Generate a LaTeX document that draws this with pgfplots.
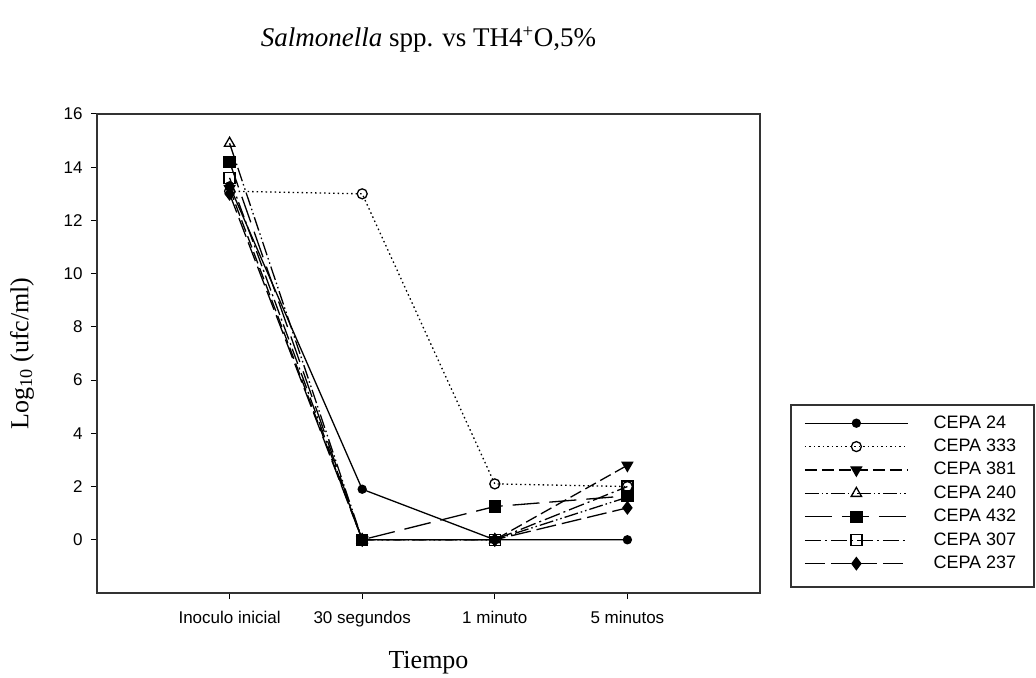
\documentclass[border=0pt]{standalone}
\usepackage{fontspec}
\setmainfont{Liberation Serif}
\newfontfamily\arialfont{Liberation Sans}
\usepackage{pgfplots}
\pgfplotsset{compat=1.18}
\begin{document}
\begin{tikzpicture}
\begin{axis}[
 scale only axis, width=663pt, height=479pt,
 xmin=-1, xmax=4, ymin=-2, ymax=16,
 xtick={0,1,2,3},
 xticklabels={Inoculo inicial, 30 segundos, 1 minuto, 5 minutos},
 ytick={0,2,...,16},
 tick align=outside, xtick pos=bottom, ytick pos=left, major tick length=6pt,
 axis line style={line width=1.5pt, draw=black!80},
 tick style={line width=1pt, black},
 ticklabel style={font=\fontsize{17}{20}\arialfont},
 xticklabel style={yshift=-9pt},
 yticklabel style={xshift=-5pt},
 /pgf/number format/assume math mode=true,
 clip=false,
 legend cell align=left,
 legend style={draw=none, fill=none, at={(rel axis cs:1.0468,0.3925)}, anchor=north west,
   inner xsep=13pt, inner ysep=10pt, row sep=7.4pt,
   font=\fontsize{18}{20}\arialfont,
   nodes={inner sep=0pt, text height=13pt, text depth=3pt},
   /tikz/every odd column/.append style={column sep=25pt}},
 legend image code/.code={\draw[mark repeat=2,mark phase=2] plot coordinates {(0pt,0pt)(51.5pt,0pt)(103pt,0pt)};},
]
\path (rel axis cs:-0.1463,-0.1691) rectangle (rel axis cs:1.4163,1.238);
\addplot[black, line width=1.3pt, mark=*, mark size=4pt] coordinates {(0,13.3)(1,1.9)(2,0)(3,0)};
\addlegendentry{CEPA 24}
\addplot[black, line width=1.3pt, dash pattern=on 1.5pt off 3pt, mark=o, mark size=5pt, mark options={solid, fill=white}] coordinates {(0,13.1)(1,13.0)(2,2.1)(3,2.0)};
\addlegendentry{CEPA 333}
\addplot[black, line width=1.3pt, dash pattern=on 12pt off 5pt, mark=triangle*, mark size=6pt, mark options={solid, rotate=180}] coordinates {(0,13.2)(1,0)(2,0)(3,2.8)};
\addlegendentry{CEPA 381}
\addplot[black, line width=1.3pt, dash pattern=on 14pt off 3pt on 1.5pt off 3pt on 1.5pt off 3pt, mark=triangle, mark size=6pt, mark options={solid, fill=white}] coordinates {(0,14.9)(1,0)(2,0)(3,1.6)};
\addlegendentry{CEPA 240}
\addplot[black, line width=1.3pt, dash pattern=on 27pt off 10pt, mark=square*, mark size=5.5pt, mark options={solid}] coordinates {(0,14.2)(1,0)(2,1.25)(3,1.65)};
\addlegendentry{CEPA 432}
\addplot[black, line width=1.3pt, dash pattern=on 16pt off 4pt on 2pt off 4pt, mark=square, mark size=5.5pt, mark options={solid, fill=white}] coordinates {(0,13.6)(1,0)(2,0)(3,2.0)};
\addlegendentry{CEPA 307}
\addplot[black, line width=1.3pt, dash pattern=on 20pt off 6pt, mark=diamond*, mark size=6pt, mark options={solid}] coordinates {(0,13.0)(1,0)(2,0)(3,1.2)};
\addlegendentry{CEPA 237}
\draw[line width=1.5pt, black!80] (rel axis cs:1.0468,0.3925) rectangle (rel axis cs:1.4133,0.0125);
\node at (rel axis cs:0.5,1.1545) {\fontsize{27}{30}\selectfont\textit{Salmonella} spp. vs TH4\textsuperscript{+}O,5\%};
\node[rotate=90] at (rel axis cs:-0.1131,0.5) {\fontsize{26}{30}\selectfont Log\textsubscript{10} (ufc/ml)};
\node at (rel axis cs:0.5,-0.1455) {\fontsize{26}{30}\selectfont Tiempo};
\end{axis}
\end{tikzpicture}
\end{document}
